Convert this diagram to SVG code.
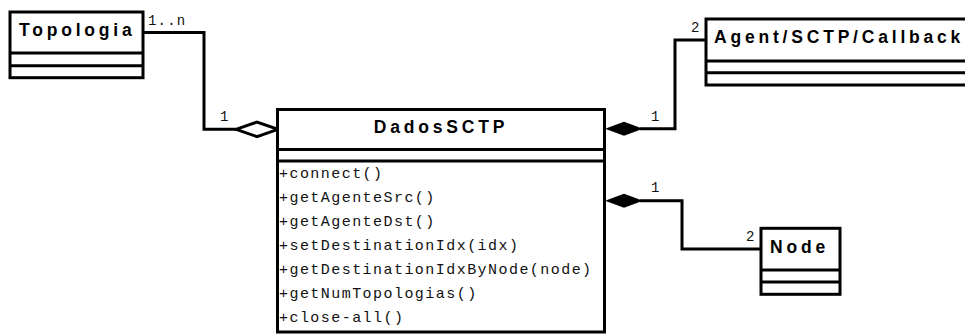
<svg xmlns="http://www.w3.org/2000/svg" width="965" height="334" viewBox="0 0 965 334">
  <style>
    .box { fill: #fff; stroke: #000; stroke-width: 3; }
    .sep { stroke: #000; stroke-width: 3; }
    .title { font-family: "Liberation Sans", Arial, sans-serif; font-weight: bold; font-size: 17.5px; letter-spacing: 3.8px; fill: #000; }
    .op { font-family: "Liberation Mono", "Courier New", monospace; font-size: 15px; letter-spacing: 1.45px; fill: #111; }
    .mult { font-family: "Liberation Mono", "Courier New", monospace; font-size: 14px; letter-spacing: 1.2px; fill: #111; }
    .edge { fill: none; stroke: #000; stroke-width: 3; }
  </style>

  <!-- associations -->
  <g id="connectors">
    <polyline class="edge" points="143,32.5 204,32.5 204,129.3 236,129.3"/>
    <polygon points="236,129.3 257,122 278,129.3 257,136.6" fill="#fff" stroke="#000" stroke-width="3"/>
    <text class="mult" x="148" y="25">1..n</text>
    <text class="mult" x="220" y="121">1</text>

    <polyline class="edge" points="640,128.8 675,128.8 675,40 706,40"/>
    <polygon points="605,128.8 624,121.8 643,128.8 624,135.8" fill="#000"/>
    <text class="mult" x="651" y="121">1</text>
    <text class="mult" x="691" y="32">2</text>

    <polyline class="edge" points="640,200.7 682,200.7 682,249 761,249"/>
    <polygon points="605,200.7 624,193.7 643,200.7 624,207.7" fill="#000"/>
    <text class="mult" x="651" y="192">1</text>
    <text class="mult" x="746" y="241">2</text>
  </g>

  <g id="Topologia">
    <rect class="box" x="10" y="12" width="133" height="65.7"/>
    <line class="sep" x1="10" y1="53" x2="143" y2="53"/>
    <line class="sep" x1="10" y1="65.7" x2="143" y2="65.7"/>
    <text class="title" x="19" y="36">Topologia</text>
  </g>

  <g id="AgentSCTPCallback">
    <rect class="box" x="706" y="19" width="290" height="66"/>
    <line class="sep" x1="706" y1="61" x2="996" y2="61"/>
    <line class="sep" x1="706" y1="72.7" x2="996" y2="72.7"/>
    <text class="title" x="714" y="43">Agent/SCTP/Callback</text>
  </g>

  <g id="DadosSCTP">
    <rect class="box" x="277.5" y="109.5" width="327" height="222.5"/>
    <line class="sep" x1="277.5" y1="149.5" x2="604.5" y2="149.5"/>
    <line class="sep" x1="277.5" y1="161" x2="604.5" y2="161"/>
    <text class="title" x="441" y="133" text-anchor="middle">DadosSCTP</text>
    <text class="op" x="279" y="178">+connect()</text>
    <text class="op" x="279" y="202">+getAgenteSrc()</text>
    <text class="op" x="279" y="226">+getAgenteDst()</text>
    <text class="op" x="279" y="250">+setDestinationIdx(idx)</text>
    <text class="op" x="279" y="274">+getDestinationIdxByNode(node)</text>
    <text class="op" x="279" y="298">+getNumTopologias()</text>
    <text class="op" x="279" y="322">+close-all()</text>
  </g>

  <g id="Node">
    <rect class="box" x="761" y="228.3" width="79" height="66"/>
    <line class="sep" x1="761" y1="270" x2="840" y2="270"/>
    <line class="sep" x1="761" y1="282" x2="840" y2="282"/>
    <text class="title" x="770" y="253">Node</text>
  </g>
</svg>
